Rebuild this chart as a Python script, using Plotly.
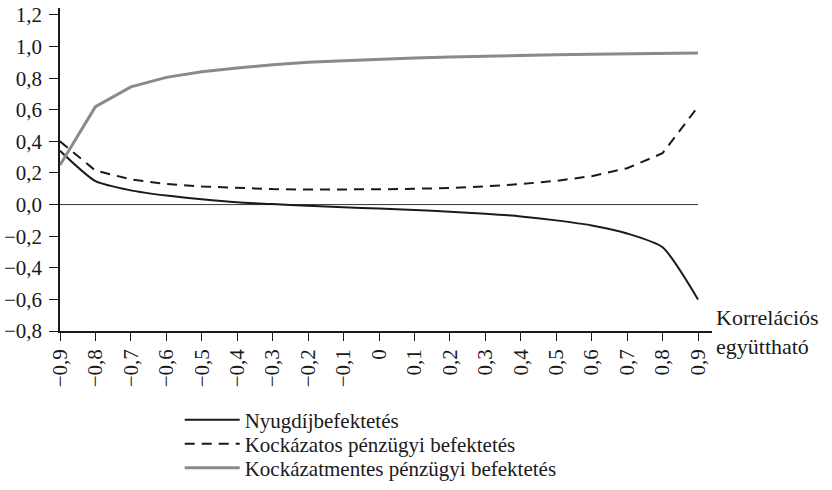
import plotly.graph_objects as go

# Data
korrelacio = [-0.9, -0.8, -0.7, -0.6, -0.5, -0.4, -0.3, -0.2, -0.1, 0.0,
              0.1, 0.2, 0.3, 0.4, 0.5, 0.6, 0.7, 0.8, 0.9]
x_ticktext = ["\u22120,9", "\u22120,8", "\u22120,7", "\u22120,6", "\u22120,5", "\u22120,4", "\u22120,3",
              "\u22120,2", "\u22120,1", "0",
              "0,1", "0,2", "0,3", "0,4", "0,5", "0,6", "0,7", "0,8", "0,9"]
nyugdij = [0.34, 0.148, 0.09, 0.057, 0.033, 0.014, 0.003, -0.008, -0.017, -0.025,
           -0.034, -0.045, -0.058, -0.075, -0.100, -0.132, -0.183, -0.27, -0.60]
kockazatos = [0.40, 0.215, 0.16, 0.13, 0.115, 0.105, 0.098, 0.095, 0.095, 0.097,
              0.10, 0.105, 0.115, 0.13, 0.15, 0.18, 0.23, 0.325, 0.62]
kockazatmentes = [0.25, 0.62, 0.745, 0.805, 0.84, 0.865, 0.885, 0.90, 0.91, 0.92,
                  0.928, 0.934, 0.94, 0.944, 0.948, 0.951, 0.954, 0.957, 0.96]
y_tickvals = [-0.8, -0.6, -0.4, -0.2, 0.0, 0.2, 0.4, 0.6, 0.8, 1.0, 1.2]
y_ticktext = ["\u22120,8", "\u22120,6", "\u22120,4", "\u22120,2", "0,0", "0,2", "0,4", "0,6", "0,8", "1,0", "1,2"]
names = ["Nyugdíjbefektetés", "Kockázatos pénzügyi befektetés", "Kockázatmentes pénzügyi befektetés"]
axis_title = ["Korrelációs", "együttható"]

FONT = "'Liberation Serif', 'Times New Roman', Times, serif"
INK = "#1a1a1a"

fig = go.Figure()
# zero reference line
fig.add_trace(go.Scatter(x=[korrelacio[0], korrelacio[-1]], y=[0, 0], mode="lines",
                         line=dict(color="#333333", width=1), showlegend=False, hoverinfo="skip"))
fig.add_trace(go.Scatter(x=korrelacio, y=nyugdij, mode="lines", name=names[0], legend="legend",
                         line=dict(color=INK, width=2, shape="spline", smoothing=0.6)))
fig.add_trace(go.Scatter(x=korrelacio, y=kockazatos, mode="lines", name=names[1], legend="legend2",
                         line=dict(color=INK, width=2, dash="10px,7px")))
fig.add_trace(go.Scatter(x=korrelacio, y=kockazatmentes, mode="lines", name=names[2], legend="legend3",
                         line=dict(color="#8a8a8a", width=3)))

legend_common = dict(x=0.1836, xanchor="left", yanchor="middle",
                     font=dict(family=FONT, size=21, color=INK),
                     bgcolor="rgba(0,0,0,0)", itemwidth=55)

fig.update_layout(
    width=832, height=490,
    margin=dict(l=60, r=120, t=8, b=159, autoexpand=False),
    paper_bgcolor="white", plot_bgcolor="white",
    font=dict(family=FONT, size=21, color=INK),
    legend=dict(y=-0.2755, **legend_common),
    legend2=dict(y=-0.3498, **legend_common),
    legend3=dict(y=-0.4241, **legend_common),
    xaxis=dict(range=[-0.9, 0.9395], tickvals=korrelacio, ticktext=x_ticktext,
               tickangle=-90, ticks="outside", ticklen=8, tickcolor=INK,
               showline=True, linecolor=INK, linewidth=1.5, automargin=False,
               showgrid=False, zeroline=False, tickfont=dict(family=FONT, size=21)),
    yaxis=dict(range=[-0.8, 1.244], tickvals=y_tickvals, ticktext=y_ticktext,
               ticks="outside", ticklen=9, tickcolor=INK, automargin=False,
               showline=True, linecolor=INK, linewidth=1.5, ticklabelstandoff=3,
               showgrid=False, zeroline=False, tickfont=dict(family=FONT, size=21)),
    annotations=[
        dict(x=1.0, xref="paper", xanchor="left", xshift=2,
             y=-0.8, yref="y", yanchor="middle", yshift=-1,
             text="<br>".join(axis_title), showarrow=False, align="left",
             font=dict(family=FONT, size=22, color=INK)),
    ],
)

# remove the default 8px page margin so the figure sits at the window's top-left corner
fig.write_html("out.html", config={"displayModeBar": False},
               post_script="document.body.style.margin='0';")
